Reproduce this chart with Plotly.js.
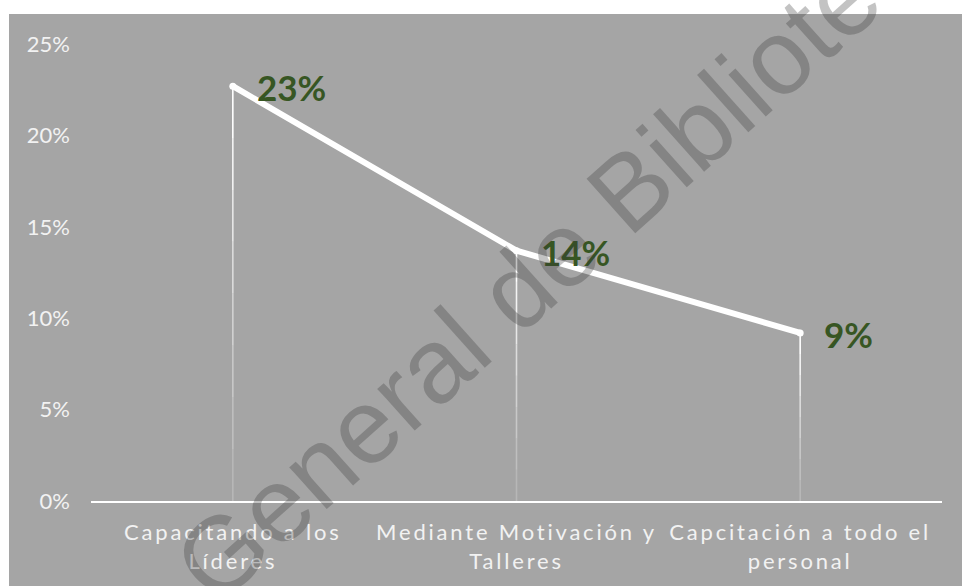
<!DOCTYPE html>
<html>
<head>
<meta charset="utf-8">
<script src="https://cdn.plot.ly/plotly-3.0.1.min.js"></script>
<style>
  html, body { margin: 0; padding: 0; background: #ffffff; }
  #panel { position: absolute; left: 9px; top: 14px; width: 953px; height: 572px; background: #a5a5a5; }
  #chart { position: absolute; left: 0; top: 0; width: 962px; height: 586px; }
  #chart .xtick text { letter-spacing: 2.8px; }
</style>
</head>
<body>
<div id="panel"></div>
<div id="chart"></div>
<script>
// Share of responses per training strategy
const categories = [
  'Capacitando a los<br>Líderes',
  'Mediante Motivación y<br>Talleres',
  'Capcitación a todo el<br>personal'
];
const shares = [0.227, 0.137, 0.092];
const yTickValues = [0, 0.05, 0.10, 0.15, 0.20, 0.25];
const yTickLabels = ['0%', '5%', '10%', '15%', '20%', '25%'];
const watermarkText = 'General de Bibliotecas';

// Drop lines fade out towards the baseline: split each one into bands
const DROP_BANDS = 8;
const dropTraces = [];
for (let k = 0; k < DROP_BANDS; k++) {
  const xs = [], ys = [];
  shares.forEach((v, i) => {
    xs.push(categories[i], categories[i], null);
    ys.push(v * k / DROP_BANDS, v * (k + 1) / DROP_BANDS, null);
  });
  const alpha = 0.15 + 0.85 * Math.pow((k + 1) / DROP_BANDS, 1.3);
  dropTraces.push({
    type: 'scatter',
    mode: 'lines',
    x: xs,
    y: ys,
    line: { color: 'rgba(255,255,255,' + alpha.toFixed(3) + ')', width: 1.6 },
    connectgaps: false,
    hoverinfo: 'skip'
  });
}

const lineTrace = {
  type: 'scatter',
  mode: 'lines+markers',
  x: categories,
  y: shares,
  line: { color: '#ffffff', width: 6 },
  marker: { color: '#ffffff', size: 7 },
  cliponaxis: false,
  hoverinfo: 'skip'
};

const valueLabels = shares.map((v, i) => ({
  x: categories[i],
  y: v,
  xref: 'x',
  yref: 'y',
  text: '<b>' + Math.round(v * 100) + '%</b>',
  showarrow: false,
  xanchor: 'left',
  yanchor: 'middle',
  xshift: 22,
  yshift: -1,
  font: { family: 'Lato, "Open Sans", sans-serif', size: 35, color: '#375623' }
}));

const watermark = {
  xref: 'paper',
  yref: 'paper',
  x: 0.585,
  y: 0.605,
  text: watermarkText,
  textangle: -41.8,
  showarrow: false,
  font: { family: '"Liberation Sans", Arial, sans-serif', size: 106, color: 'rgba(55,55,55,0.3)' }
};

const layout = {
  width: 962,
  height: 586,
  margin: { l: 91, r: 20, t: 44, b: 85 },
  paper_bgcolor: 'rgba(0,0,0,0)',
  plot_bgcolor: 'rgba(0,0,0,0)',
  showlegend: false,
  xaxis: {
    type: 'category',
    range: [-0.5, 2.5],
    showgrid: false,
    zeroline: false,
    showline: true,
    linecolor: '#ffffff',
    linewidth: 2,
    tickangle: 0,
    ticks: 'outside',
    ticklen: 11,
    tickcolor: 'rgba(0,0,0,0)',
    tickfont: { family: 'Lato, "Open Sans", sans-serif', size: 22, color: '#f2f2f2' },
    fixedrange: true
  },
  yaxis: {
    range: [0, 0.2501],
    tickvals: yTickValues,
    ticktext: yTickLabels,
    showgrid: false,
    zeroline: false,
    showline: false,
    ticklabelstandoff: 20,
    tickfont: { family: 'Lato, "Open Sans", sans-serif', size: 22, color: '#f2f2f2' },
    fixedrange: true
  },
  annotations: valueLabels.concat([watermark])
};

Plotly.newPlot('chart', dropTraces.concat([lineTrace]), layout, { displayModeBar: false, staticPlot: true });
</script>
</body>
</html>
